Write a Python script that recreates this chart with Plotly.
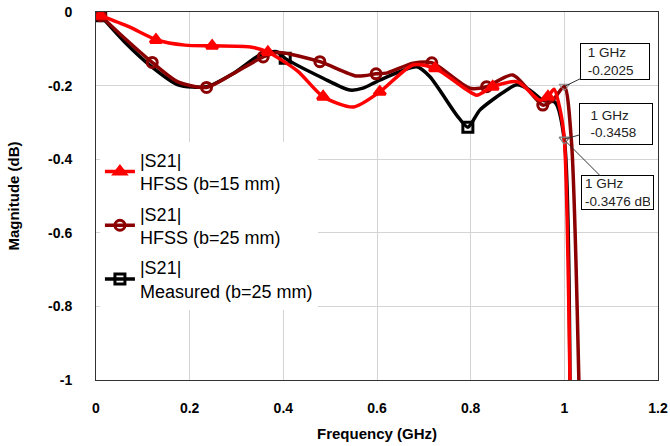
import plotly.graph_objects as go

# |S21| HFSS (b=15 mm)
f15 = [0.01, 0.07, 0.13, 0.19, 0.25, 0.33, 0.367, 0.43, 0.485, 0.55, 0.606, 0.677, 0.724, 0.79, 0.813, 0.847, 0.9, 0.948, 0.965, 0.978, 0.99, 1.0, 1.012]
s15 = [-0.01, -0.04, -0.076, -0.09, -0.092, -0.095, -0.109, -0.16, -0.23, -0.258, -0.217, -0.144, -0.153, -0.21, -0.226, -0.203, -0.19, -0.24, -0.23, -0.21, -0.26, -0.3458, -1.0]
m15_f = [0.01, 0.128, 0.248, 0.367, 0.485, 0.606, 0.724, 0.847, 0.965]
m15_s = [-0.01, -0.076, -0.092, -0.109, -0.23, -0.217, -0.153, -0.203, -0.23]

# |S21| HFSS (b=25 mm)
f25 = [0.01, 0.06, 0.12, 0.175, 0.236, 0.29, 0.357, 0.39, 0.478, 0.557, 0.598, 0.62, 0.677, 0.717, 0.798, 0.834, 0.89, 0.954, 0.975, 1.0, 1.015, 1.031]
s25 = [-0.01, -0.07, -0.137, -0.19, -0.205, -0.17, -0.122, -0.11, -0.135, -0.174, -0.168, -0.166, -0.139, -0.138, -0.207, -0.203, -0.171, -0.253, -0.24, -0.2025, -0.348, -1.0]
m25_f = [0.01, 0.12, 0.236, 0.357, 0.478, 0.598, 0.717, 0.834, 0.954]
m25_s = [-0.01, -0.137, -0.205, -0.122, -0.135, -0.168, -0.138, -0.203, -0.253]

# |S21| Measured (b=25 mm)
fm = [0.01, 0.06, 0.12, 0.175, 0.236, 0.293, 0.35, 0.386, 0.404, 0.485, 0.542, 0.57, 0.606, 0.685, 0.713, 0.77, 0.794, 0.82, 0.877, 0.899, 0.926, 0.954, 0.98, 1.0, 1.012]
sm = [-0.01, -0.08, -0.15, -0.198, -0.203, -0.167, -0.117, -0.108, -0.126, -0.18, -0.212, -0.207, -0.185, -0.149, -0.176, -0.28, -0.313, -0.266, -0.212, -0.198, -0.212, -0.24, -0.245, -0.3476, -1.0]
mm_f = [0.01, 0.404, 0.794]
mm_s = [-0.01, -0.126, -0.313]

# markers at 1 GHz
ann_f = [1.0, 1.0, 1.0]
ann_s = [-0.2025, -0.3458, -0.3476]
ann_txt = ["&nbsp;1 GHz<br>&nbsp;-0.2025", "&nbsp;&nbsp;1 GHz<br>&nbsp;&nbsp;-0.3458", "1 GHz<br>-0.3476 dB"]
ann_off = [(51, -25), (52, -15), (53, 53)]
ann_w = [62, 66, 65]
ann_h = [29, 34, 27]

x_ticks = [0, 0.2, 0.4, 0.6, 0.8, 1.0, 1.2]
x_labels = ["0", "0.2", "0.4", "0.6", "0.8", "1", "1.2"]
y_ticks = [0, -0.2, -0.4, -0.6, -0.8, -1.0]
y_labels = ["0", "-0.2", "-0.4", "-0.6", "-0.8", "-1"]

RED = "#FF0000"
DRED = "#8B0000"
BLK = "#000000"
LW = 3.5
FONT = "Liberation Sans, Arial, sans-serif"

fig = go.Figure()

series = [
    (f15, s15, m15_f, m15_s, RED, "triangle-up", "|S21|<br>HFSS (b=15 mm)"),
    (f25, s25, m25_f, m25_s, DRED, "circle-open", "|S21|<br>HFSS (b=25 mm)"),
    (fm, sm, mm_f, mm_s, BLK, "square-open", "|S21|<br>Measured (b=25 mm)"),
]

for fx, sy, mx, my, col, sym, name in [series[2], series[1], series[0]]:
    fig.add_trace(go.Scatter(x=fx, y=sy, mode="lines", line=dict(color=col, width=LW, shape="spline", smoothing=0.7),
                             showlegend=False, hoverinfo="skip"))
    fig.add_trace(go.Scatter(x=mx, y=my, mode="markers",
                             marker=dict(symbol=sym, size=10, color=col, line=dict(color=col, width=3)),
                             showlegend=False, hoverinfo="skip"))

for i, (fx, sy, mx, my, col, sym, name) in enumerate(series):
    fig.add_trace(go.Scatter(x=[None], y=[None], mode="lines+markers", name=name, legendgroup=str(i),
                             line=dict(color=col, width=LW),
                             marker=dict(symbol=sym, size=10, color=col, line=dict(color=col, width=3))))

fig.add_trace(go.Scatter(x=ann_f, y=ann_s, mode="markers", showlegend=False, hoverinfo="skip",
                         marker=dict(symbol="triangle-down-open", size=9, color="#808080", line=dict(width=1))))

for f, s, t, (ax, ay), w, h in zip(ann_f, ann_s, ann_txt, ann_off, ann_w, ann_h):
    fig.add_annotation(x=f, y=s, xref="x", yref="y", text=t, showarrow=True, arrowhead=0, arrowwidth=1,
                       arrowcolor="#333333", ax=ax, ay=ay, align="left", bgcolor="white",
                       bordercolor="black", borderwidth=1, borderpad=3, width=w, height=h,
                       font=dict(family=FONT, size=13.5, color="#222222"))

fig.update_layout(
    width=670, height=446, margin=dict(l=96, r=12, t=12, b=66, autoexpand=False),
    paper_bgcolor="white", plot_bgcolor="white",
    font=dict(family=FONT, color="black"),
    legend=dict(x=0.007, y=0.648, xanchor="left", yanchor="top", bgcolor="white",
                font=dict(family=FONT, size=18, color="black"), tracegroupgap=4, itemwidth=30),
)
fig.update_xaxes(range=[0, 1.2], tickvals=x_ticks, ticktext=x_labels, showgrid=True, gridcolor="#d4d4d4", gridwidth=1,
                 showline=True, linecolor="#333333", linewidth=1, mirror=True, zeroline=False, automargin=False,
                 tickfont=dict(family=FONT, size=14, color="black", weight="bold"),
                 ticklabelstandoff=15,
                 title=dict(text="<b>Frequency (GHz)</b>", font=dict(family=FONT, size=15), standoff=13))
fig.update_yaxes(range=[-1, 0], tickvals=y_ticks, ticktext=y_labels, showgrid=True, gridcolor="#d4d4d4", gridwidth=1,
                 showline=True, linecolor="#333333", linewidth=1, mirror=True, zeroline=False, automargin=False,
                 tickfont=dict(family=FONT, size=14, color="black", weight="bold"),
                 ticklabelstandoff=20,
                 title=dict(text="<b>Magnitude (dB)</b>", font=dict(family=FONT, size=15), standoff=24))

fig.write_html("out.html")
